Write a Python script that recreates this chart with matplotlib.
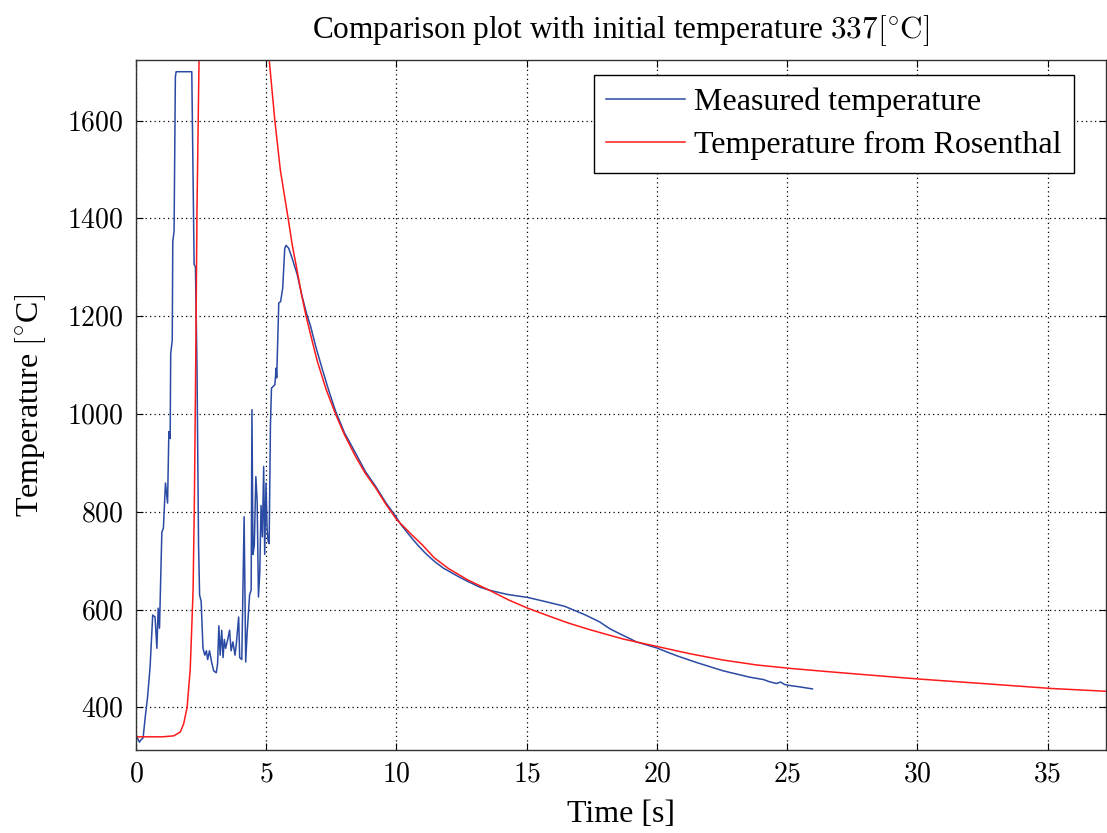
# -*- coding: utf-8 -*-
# Comparación: temperatura medida vs. modelo de Rosenthal
import matplotlib
matplotlib.use("Agg")
import numpy as np
import matplotlib.pyplot as plt

# Datos
# Temperatura medida
t_medida = [0.0, 0.05, 0.13, 0.18, 0.27, 0.36, 0.44, 0.54, 0.64, 0.73, 0.80, 0.85, 0.90,
            0.99, 1.05, 1.13, 1.21, 1.26, 1.31, 1.33, 1.39, 1.41, 1.46, 1.51, 1.54,
            2.14, 2.23, 2.28, 2.34, 2.40, 2.44, 2.50, 2.57, 2.64, 2.70, 2.75, 2.82,
            2.90, 2.98, 3.08, 3.13, 3.18, 3.23, 3.29, 3.34, 3.39, 3.44, 3.52, 3.59,
            3.65, 3.72, 3.80, 3.85, 3.94, 3.98, 4.06, 4.15, 4.21, 4.26, 4.36, 4.42,
            4.45, 4.49, 4.54, 4.60, 4.65, 4.70, 4.75, 4.80, 4.85, 4.90, 4.94, 4.99,
            5.03, 5.07, 5.11, 5.16, 5.20, 5.33, 5.38, 5.40, 5.48, 5.55, 5.63, 5.71,
            5.76, 5.86, 5.99, 6.19, 6.38, 6.55, 6.70, 6.9, 7.15, 7.4, 7.66, 8.0, 8.43,
            8.8, 9.20, 9.6, 9.97, 10.17, 10.5, 10.8, 11.1, 11.45, 11.8, 12.1, 12.4,
            12.73, 13.2, 13.63, 14.27, 15.04, 15.68, 16.45, 17.22, 17.8, 18.19, 18.6,
            19.22, 19.98, 20.75, 21.52, 22.54, 23.56, 24.1, 24.3, 24.59, 24.75, 24.9,
            25.1, 25.5, 25.97]
T_medida = [345, 338, 329, 333, 338, 384, 420, 484, 589, 585, 521, 603, 562,
            758, 767, 859, 818, 964, 950, 1123, 1151, 1352, 1374, 1690, 1700,
            1700, 1306, 1301, 1096, 731, 630, 617, 521, 507, 516, 498, 516,
            493, 475, 471, 489, 567, 507, 558, 502, 539, 521, 539, 558,
            516, 534, 507, 530, 585, 502, 498, 790, 493, 548, 630, 640,
            1009, 713, 731, 872, 822, 626, 676, 813, 749, 893, 713, 859,
            767, 740, 735, 977, 1053, 1060, 1094, 1074, 1227, 1230, 1257, 1339,
            1345, 1339, 1319, 1285, 1240, 1205, 1180, 1138, 1092, 1048, 1006, 962, 920,
            883, 852, 818, 791, 774, 752, 733, 716, 699, 685, 676, 667,
            658, 646, 639, 631, 625, 617, 607, 590, 575, 561, 550,
            534, 522, 506, 492, 475, 462, 457, 453, 449, 452, 447,
            445, 442, 438]

# Temperatura según Rosenthal (NaN = fuera de escala)
t_rosenthal = [0.0, 1.0, 1.45, 1.70, 1.83, 1.96, 2.08, 2.15, 2.19, 2.24, 2.29, 2.34, 2.42,
               np.nan,
               5.12, 5.33, 5.54, 5.84, 6.0, 6.19, 6.35, 6.53, 6.75, 6.96, 7.3, 7.66, 8.0,
               8.43, 8.8, 9.20, 9.6, 10.01, 10.59, 11.0, 11.45, 12.0, 12.73, 13.63, 14.3,
               15.04, 15.8, 16.58, 17.43, 18.7, 19.98, 21.26, 22.54, 23.82, 25.1, 26.63,
               28.0, 30.1, 32.5, 35.1, 37.3]
T_rosenthal = [340, 340, 342, 350, 367, 400, 478, 580, 640, 822, 1096, 1416, 1730,
               np.nan,
               1720, 1600, 1499, 1400, 1345, 1292, 1245, 1200, 1152, 1108, 1050, 1000, 958,
               913, 879, 849, 815, 784, 753, 732, 706, 684, 661, 638, 620,
               603, 588, 573, 559, 540, 525, 510, 497, 487, 480, 473,
               467, 458, 449, 439, 433]

# Estilo
plt.rcParams["font.family"] = ["Liberation Serif", "DejaVu Serif"]
plt.rcParams["mathtext.fontset"] = "cm"

fig = plt.figure(figsize=(11.07, 8.33), dpi=100)
ax = fig.add_axes([0.1229, 0.0996, 0.8766, 0.8284])

ax.plot(t_medida, T_medida, color="#2a4aa3", lw=1.1, label="Measured temperature")
ax.plot(t_rosenthal, T_rosenthal, color="#ff1a1a", lw=1.1, label="Temperature from Rosenthal")

xticks = [0, 5, 10, 15, 20, 25, 30, 35]
yticks = [400, 600, 800, 1000, 1200, 1400, 1600]
ax.set_xlim(0, 37.26)
ax.set_ylim(313, 1724)
ax.set_xticks(xticks)
ax.set_yticks(yticks)
ax.set_xticklabels(["$%d$" % v for v in xticks])
ax.set_yticklabels(["$%d$" % v for v in yticks])
ax.tick_params(direction="in", top=True, right=True, labelsize=20, length=5, pad=9)
ax.grid(True, color="black", linestyle=(0, (1, 2.6)), lw=0.9)

for s in ax.spines.values():
    s.set_linewidth(1.0)
    s.set_color("#333333")

ax.set_title(r"Comparison plot with initial temperature $337[{}^{\circ}\mathrm{C}]$",
             fontsize=22.5, pad=16)
ax.set_xlabel("Time [s]", fontsize=23, labelpad=9)
ax.set_ylabel(r"Temperature $[{}^{\circ}$C$]$", fontsize=23, labelpad=14)

leg = ax.legend(loc="upper right", fontsize=23, fancybox=False, framealpha=1,
                edgecolor="black", handlelength=2.45, handletextpad=0.3,
                borderpad=0.4, labelspacing=0.42, borderaxespad=0,
                bbox_to_anchor=(0.967, 0.978))
leg.get_frame().set_linewidth(1.0)

plt.savefig("out.png", dpi=100)
